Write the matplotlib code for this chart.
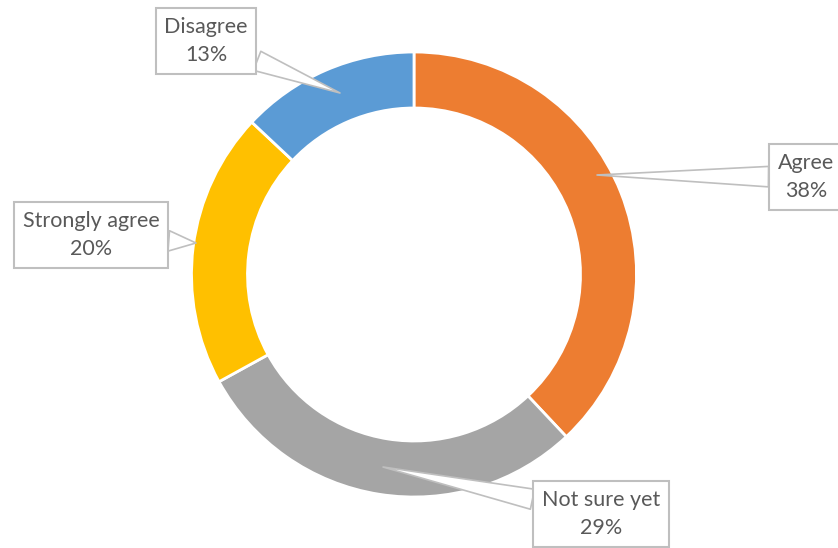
import matplotlib.pyplot as plt

labels = ['Agree', 'Not sure yet', 'Strongly agree', 'Disagree']
values = [38, 29, 20, 13]
colors = ['#ED7D31', '#A5A5A5', '#FFC000', '#5B9BD5']

# label box centres and callout tips, in pixel coords (y from top)
box_xy = [(806, 177), (601, 514), (91, 235), (206, 41)]
tip_xy = [(597, 175), (383, 467), (196, 243), (340, 93)]

W, H = 838, 548
fig = plt.figure(figsize=(W / 100, H / 100), dpi=100)
ax = fig.add_axes([0, 0, 1, 1])

cx, cy, r = 414, H - 274.5, 222.5
ax.pie(values, colors=colors, startangle=90, counterclock=False,
       center=(cx, cy), radius=r, frame=True,
       wedgeprops=dict(width=56, edgecolor='white', linewidth=2))
ax.set_xlim(0, W)
ax.set_ylim(0, H)
ax.set_aspect('equal')
ax.axis('off')

for lab, v, (bx, by), (tx, ty) in zip(labels, values, box_xy, tip_xy):
    ax.annotate(f'{lab}\n{v}%', xy=(tx, H - ty), xytext=(bx, H - by),
                ha='center', va='center', fontsize=15.5, family='Lato',
                color='#595959', linespacing=1.5,
                bbox=dict(boxstyle='square,pad=0.4', fc='white',
                          ec='#bfbfbf', lw=1.5),
                arrowprops=dict(arrowstyle='wedge,tail_width=0.95',
                                fc='white', ec='#bfbfbf', lw=1.2,
                                shrinkA=0, shrinkB=0))

fig.savefig('out.png', dpi=100)
